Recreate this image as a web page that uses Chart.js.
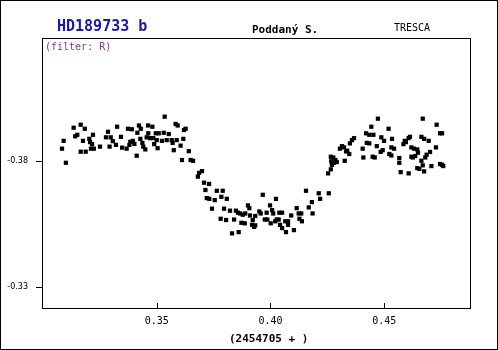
<!DOCTYPE html>
<html>
<head>
<meta charset="utf-8">
<script src="https://cdn.jsdelivr.net/npm/chart.js@4/dist/chart.umd.min.js"></script>
<style>
  html, body { margin: 0; padding: 0; background: #fff; }
</style>
</head>
<body>
<canvas id="chart" width="498" height="350"></canvas>
<script>
// JD - 2454705
const jd = [
  0.3084, 0.3091, 0.3101, 0.3135, 0.3142, 0.3151, 0.3166, 0.3166, 0.3176, 0.3184,
  0.3188, 0.3204, 0.3207, 0.3211, 0.3216, 0.3220, 0.3224, 0.3251, 0.3277, 0.3286,
  0.3293, 0.3298, 0.3307, 0.3321, 0.3326, 0.3343, 0.3348, 0.3368, 0.3374, 0.3380,
  0.3384, 0.3391, 0.3395, 0.3402, 0.3412, 0.3415, 0.3422, 0.3428, 0.3430, 0.3437,
  0.3441, 0.3450, 0.3456, 0.3462, 0.3463, 0.3471, 0.3481, 0.3485, 0.3489, 0.3496,
  0.3500, 0.3509, 0.3504, 0.3523, 0.3531, 0.3535, 0.3544, 0.3553, 0.3566, 0.3570,
  0.3575, 0.3583, 0.3588, 0.3592, 0.3605, 0.3611, 0.3617, 0.3620, 0.3627, 0.3641,
  0.3649, 0.3660, 0.3681, 0.3686, 0.3699, 0.3708, 0.3730, 0.3714, 0.3764, 0.3790,
  0.3720, 0.3731, 0.3755, 0.3784, 0.3808, 0.3743, 0.3796, 0.3822, 0.3848, 0.3857,
  0.3866, 0.3878, 0.3889, 0.3781, 0.3805, 0.3840, 0.3872, 0.3887, 0.3919, 0.3928,
  0.3933, 0.3831, 0.3860, 0.3901, 0.3907, 0.3910, 0.3922, 0.3933, 0.3951, 0.3957,
  0.3966, 0.3975, 0.3986, 0.3983, 0.3998, 0.4007, 0.4012, 0.4001, 0.4021, 0.4027,
  0.4036, 0.4024, 0.4039, 0.4051, 0.4042, 0.4065, 0.4077, 0.4051, 0.4077, 0.4091,
  0.4103, 0.4115, 0.4124, 0.4068, 0.4127, 0.4138, 0.4135, 0.4168, 0.4182, 0.4185,
  0.4156, 0.4212, 0.4256, 0.4218, 0.4253, 0.4265, 0.4270, 0.4291, 0.4265, 0.4276,
  0.4326, 0.4332, 0.4346, 0.4267, 0.4279, 0.4285, 0.4305, 0.4314, 0.4323, 0.4337,
  0.4349, 0.4358, 0.4367, 0.4405, 0.4408, 0.4420, 0.4434, 0.4452, 0.4423, 0.4434,
  0.4443, 0.4472, 0.4449, 0.4458, 0.4467, 0.4484, 0.4493, 0.4487, 0.4499, 0.4519,
  0.4522, 0.4531, 0.4531, 0.4543, 0.4534, 0.4566, 0.4566, 0.4572, 0.4584, 0.4595,
  0.4590, 0.4607, 0.4613, 0.4607, 0.4619, 0.4631, 0.4645, 0.4619, 0.4625, 0.4648,
  0.4636, 0.4645, 0.4654, 0.4663, 0.4669, 0.4675, 0.4663, 0.4675, 0.4695, 0.4669,
  0.4680, 0.4686, 0.4701, 0.4707, 0.4727, 0.4730, 0.4745, 0.4754, 0.4745, 0.4754,
  0.4759
];

// relativni magnituda
const mag = [
  -0.3848, -0.3879, -0.3792, -0.3931, -0.3897, -0.3903, -0.3943, -0.3836, -0.3879, -0.3927,
  -0.3836, -0.3887, -0.3874, -0.3848, -0.3866, -0.3903, -0.3848, -0.3856, -0.3893, -0.3915,
  -0.3856, -0.3893, -0.3878, -0.3863, -0.3935, -0.3895, -0.3852, -0.3848, -0.3927, -0.3863,
  -0.3875, -0.3925, -0.3879, -0.3867, -0.3820, -0.3911, -0.3940, -0.3887, -0.3927, -0.3871,
  -0.3856, -0.3845, -0.3893, -0.3940, -0.3909, -0.3890, -0.3935, -0.3890, -0.3866, -0.3909,
  -0.3882, -0.3909, -0.3850, -0.3879, -0.3911, -0.3975, -0.3882, -0.3906, -0.3882, -0.3871,
  -0.3842, -0.3946, -0.3882, -0.3940, -0.3860, -0.3803, -0.3887, -0.3922, -0.3927, -0.3838,
  -0.3803, -0.3800, -0.3737, -0.3752, -0.3759, -0.3713, -0.3708, -0.3684, -0.3681, -0.3681,
  -0.3652, -0.3649, -0.3644, -0.3657, -0.3649, -0.3610, -0.3610, -0.3602, -0.3602, -0.3594,
  -0.3591, -0.3586, -0.3591, -0.3570, -0.3565, -0.3567, -0.3554, -0.3552, -0.3546, -0.3538,
  -0.3544, -0.3512, -0.3517, -0.3623, -0.3612, -0.3583, -0.3565, -0.3581, -0.3599, -0.3591,
  -0.3665, -0.3567, -0.3567, -0.3594, -0.3623, -0.3604, -0.3591, -0.3552, -0.3560, -0.3567,
  -0.3567, -0.3649, -0.3594, -0.3594, -0.3546, -0.3560, -0.3560, -0.3533, -0.3546, -0.3583,
  -0.3525, -0.3612, -0.3591, -0.3517, -0.3570, -0.3560, -0.3591, -0.3615, -0.3636, -0.3591,
  -0.3681, -0.3671, -0.3671, -0.3649, -0.3750, -0.3766, -0.3784, -0.3795, -0.3816, -0.3813,
  -0.3800, -0.3837, -0.3827, -0.3798, -0.3792, -0.3803, -0.3848, -0.3858, -0.3853, -0.3840,
  -0.3869, -0.3882, -0.3890, -0.3848, -0.3813, -0.3909, -0.3903, -0.3903, -0.3871, -0.3869,
  -0.3935, -0.3967, -0.3816, -0.3813, -0.3858, -0.3835, -0.3842, -0.3893, -0.3879, -0.3927,
  -0.3827, -0.3821, -0.3853, -0.3848, -0.3887, -0.3811, -0.3792, -0.3755, -0.3866, -0.3874,
  -0.3879, -0.3890, -0.3895, -0.3750, -0.3853, -0.3848, -0.3845, -0.3816, -0.3813, -0.3832,
  -0.3819, -0.3771, -0.3768, -0.3800, -0.3782, -0.3758, -0.3895, -0.3887, -0.3879, -0.3967,
  -0.3813, -0.3824, -0.3835, -0.3779, -0.3853, -0.3943, -0.3909, -0.3909, -0.3787, -0.3784,
  -0.3779
];

const xTicks = [0.35, 0.40, 0.45];
const yTicks = [-0.38, -0.33];
const xRange = [0.2996, 0.4881];
const yRange = [-0.4287, -0.3216];

const points = jd.map((x, i) => ({ x: x, y: mag[i] }));

const mono = 'DejaVu Sans Mono';

/*
* Ramecek kolem grafu, carky na osach a popisky nahore.
*/
const frame = {
  id: 'frame',
  afterDraw(chart) {
    const { ctx, chartArea: a, scales } = chart;
    ctx.save();
    ctx.strokeStyle = '#000';
    ctx.lineWidth = 1;
    ctx.strokeRect(0.5, 0.5, chart.width - 1, chart.height - 1);
    ctx.strokeRect(a.left + 0.5, a.top + 0.5, a.right - a.left - 1, a.bottom - a.top);

    ctx.beginPath();
    xTicks.forEach(v => {
      const x = Math.round(scales.x.getPixelForValue(v)) + 0.5;
      ctx.moveTo(x, a.bottom);
      ctx.lineTo(x, a.bottom - 5);
    });
    yTicks.forEach(v => {
      const y = Math.round(scales.y.getPixelForValue(v)) + 0.5;
      ctx.moveTo(a.left - 6, y);
      ctx.lineTo(a.left, y);
    });
    ctx.stroke();

    ctx.textBaseline = 'alphabetic';
    ctx.textAlign = 'left';
    ctx.fillStyle = '#1a1aa6';
    ctx.font = 'bold 15px "' + mono + '"';
    ctx.fillText('HD189733 b', 57, 31);

    ctx.fillStyle = '#000';
    ctx.font = 'bold 11px "' + mono + '"';
    ctx.fillText('Poddaný S.', 252, 33);

    ctx.font = '10px "' + mono + '"';
    ctx.fillText('TRESCA', 394, 31);

    ctx.fillStyle = '#8a3a8e';
    ctx.font = '10px "' + mono + '"';
    ctx.fillText('(filter: R)', 45, 50);

    ctx.fillStyle = '#000';
    ctx.font = 'bold 11px "' + mono + '"';
    ctx.fillText('(2454705 + )', 229, 342);
    ctx.restore();
  }
};

const ctx = document.getElementById('chart');

new Chart(ctx, {
  type: 'scatter',
  data: {
    datasets: [{
      data: points,
      backgroundColor: '#000',
      borderWidth: 0,
      pointStyle: 'rect',
      pointRadius: 3,
      pointHoverRadius: 3
    }]
  },
  options: {
    responsive: false,
    animation: false,
    events: [],
    layout: { padding: { top: 38, right: 27, left: 0, bottom: 0 } },
    plugins: {
      legend: { display: false },
      tooltip: { enabled: false }
    },
    scales: {
      x: {
        type: 'linear',
        min: xRange[0],
        max: xRange[1],
        afterFit: s => { s.height = 42; },
        afterBuildTicks: s => { s.ticks = xTicks.map(v => ({ value: v })); },
        grid: { display: false, drawTicks: false },
        border: { display: false },
        ticks: {
          color: '#000',
          padding: 7,
          maxRotation: 0,
          font: { family: mono, size: 10 },
          callback: v => v.toFixed(2)
        }
      },
      y: {
        type: 'linear',
        reverse: true,
        min: yRange[0],
        max: yRange[1],
        afterFit: s => { s.width = 42; },
        afterBuildTicks: s => { s.ticks = yTicks.map(v => ({ value: v })); },
        grid: { display: false, drawTicks: false },
        border: { display: false },
        ticks: {
          color: '#000',
          padding: 14,
          font: { family: 'DejaVu Sans', size: 8 },
          callback: v => v.toFixed(2)
        }
      }
    }
  },
  plugins: [frame]
});
</script>
</body>
</html>
